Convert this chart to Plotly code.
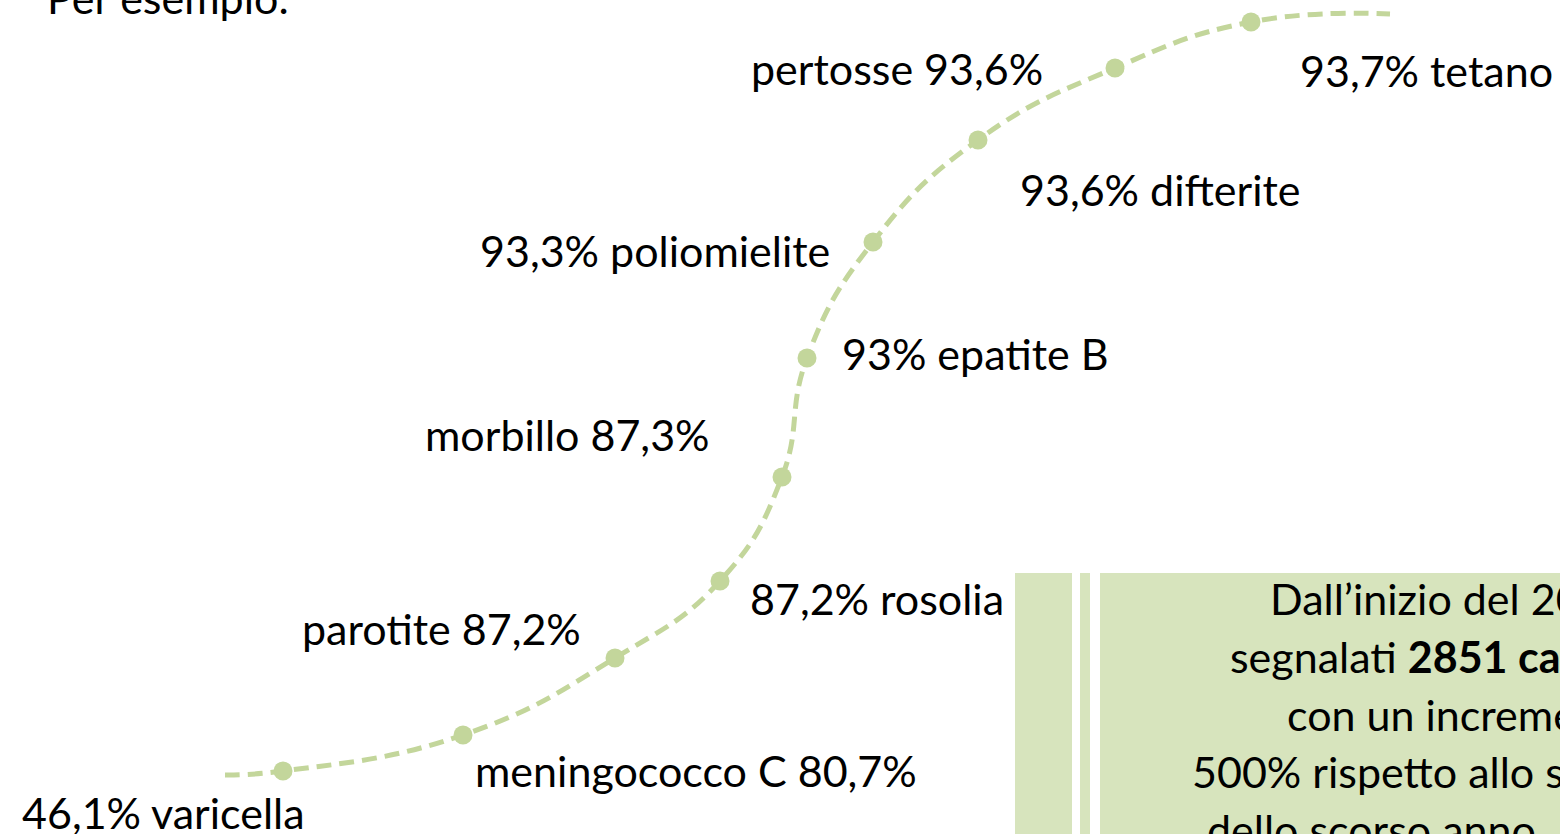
import plotly.graph_objects as go

# ---- data ----
vaccines = ["varicella", "meningococco C", "parotite", "rosolia", "morbillo",
            "epatite B", "poliomielite", "difterite", "pertosse", "tetano"]
coverage = [46.1, 80.7, 87.2, 87.2, 87.3, 93.0, 93.3, 93.6, 93.6, 93.7]
name_first = [False, True, True, False, True, False, False, False, True, False]

# slide layout (pixel positions of the decorative curve and its labels)
dot_x = [283, 463, 615, 720, 782, 807, 873, 978, 1115, 1251]
dot_y = [771, 735, 658, 581, 477, 358, 242, 140, 68, 22]
curve_start = (225, 775)
curve_end = (1390, 14)
label_x = [20, 473, 583, 748, 712, 840, 832, 1018, 1045, 1298]
label_y = [812, 770, 628, 598, 434, 353, 250, 189, 68, 70]
label_anchor = ["left", "left", "right", "left", "right", "left", "right", "left", "right", "left"]

W, H = 1560, 834
GREEN = "#C3D69B"
BOX = "#D7E4BD"
FONT = "Lato"
FS = 43


def fmt(v):
    return ("%g" % v).replace(".", ",") + "%"


def py(y):
    """pixel row -> paper coordinate"""
    return 1 - y / H


def px(x):
    return x / W


fig = go.Figure()
cx = [curve_start[0]] + dot_x + [curve_end[0]]
cy = [curve_start[1]] + dot_y + [curve_end[1]]
fig.add_trace(go.Scatter(x=cx, y=cy, mode="lines",
                         line=dict(color=GREEN, width=5, dash="15px,8px", shape="spline", smoothing=1.3),
                         hoverinfo="skip", showlegend=False))
fig.add_trace(go.Scatter(x=dot_x, y=dot_y, mode="markers",
                         marker=dict(color=GREEN, size=19),
                         text=[f"{n} {fmt(v)}" for n, v in zip(vaccines, coverage)],
                         hoverinfo="text", showlegend=False))

for n, v, nf, lx, ly, an in zip(vaccines, coverage, name_first, label_x, label_y, label_anchor):
    txt = f"{n} {fmt(v)}" if nf else f"{fmt(v)} {n}"
    fig.add_annotation(x=px(lx), y=py(ly), xref="paper", yref="paper", text=txt, showarrow=False,
                       xanchor=an, yanchor="middle",
                       font=dict(family=FONT, size=FS, color="#000000"))

# heading (cut by the top edge, as in the slide)
fig.add_annotation(x=px(45), y=py(-3), xref="paper", yref="paper", text="Per esempio:", showarrow=False,
                   xanchor="left", yanchor="middle", font=dict(family=FONT, size=FS, color="#000000"))

# text box at bottom right
shapes = []
for x0, x1 in [(1015, 1072), (1080, 1090), (1100, 1700)]:
    shapes.append(dict(type="rect", xref="x", yref="y", x0=x0, x1=x1, y0=573, y1=900,
                       fillcolor=BOX, line=dict(width=0), layer="below"))
fig.update_layout(shapes=shapes)

box_lines = [
    (1268, 598, "Dall’inizio del 2017"),
    (1228, 656, "segnalati <b>2851 casi</b>"),
    (1285, 714, "con un incremento"),
    (1190, 771, "500% rispetto allo stesso"),
    (1205, 829, "dello scorso anno"),
]
for bx, by, t in box_lines:
    fig.add_annotation(x=px(bx), y=py(by), xref="paper", yref="paper", text=t, showarrow=False,
                       xanchor="left", yanchor="middle",
                       font=dict(family=FONT, size=FS, color="#000000"))

fig.update_layout(
    width=W, height=H, margin=dict(l=0, r=0, t=0, b=0),
    paper_bgcolor="white", plot_bgcolor="white",
    xaxis=dict(range=[0, W], visible=False, fixedrange=True),
    yaxis=dict(range=[H, 0], visible=False, fixedrange=True),
)

fig.write_html("out.html", config={"displayModeBar": False},
               post_script="document.body.style.margin='0';document.body.style.overflow='hidden';")
